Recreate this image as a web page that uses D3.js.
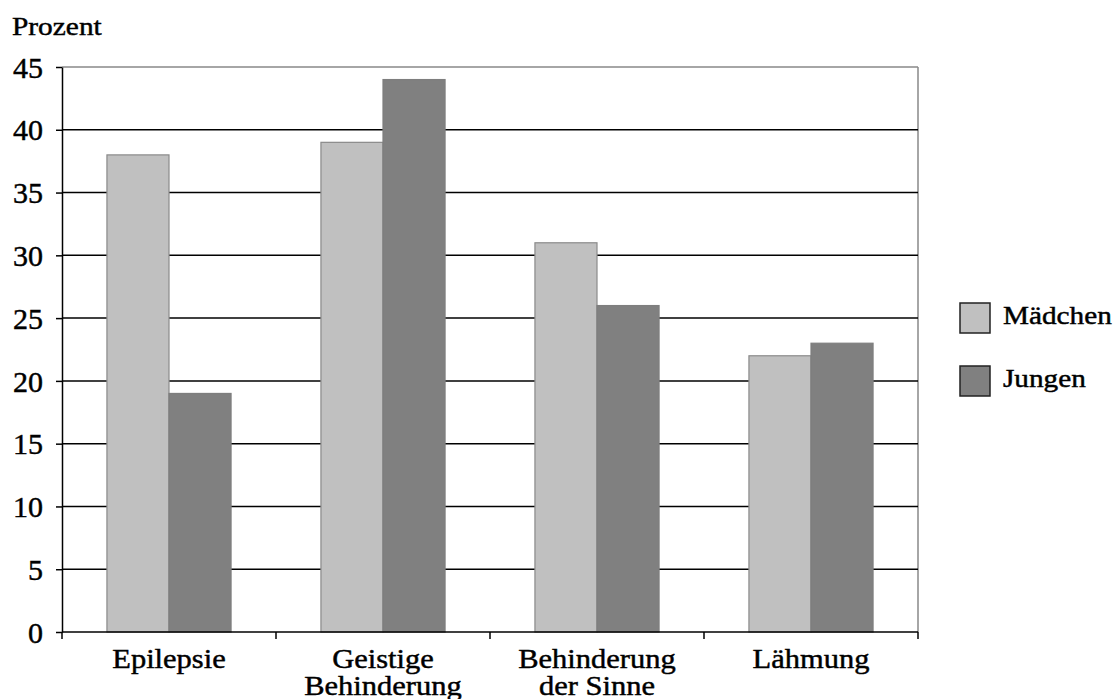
<!DOCTYPE html>
<html>
<head>
<meta charset="utf-8">
<script src="https://cdn.jsdelivr.net/npm/d3@7"></script>
<style>
  body { margin: 0; background: #fff; }
  svg text { fill: #000; stroke: #000; stroke-width: 0.45px; }
</style>
</head>
<body>
<script>
var categories = [['Epilepsie'], ['Geistige', 'Behinderung'], ['Behinderung', 'der Sinne'], ['Lähmung']];
var seriesNames = ['Mädchen', 'Jungen'];
var maedchen = [38, 39, 31, 22];
var jungen = [19, 44, 26, 23];
var yTicks = [0, 5, 10, 15, 20, 25, 30, 35, 40, 45];

var svgWidth = 1118, svgHeight = 699,
    margin = { top: 67, right: 200, bottom: 67, left: 62 },
    chartWidth = svgWidth - margin.left - margin.right,
    chartHeight = svgHeight - margin.top - margin.bottom;

var serif = 'Liberation Serif';
var stretch = 1.13; // the reference lettering is a little wider than Times
var fills = ['#c0c0c0', '#808080'];

var svg = d3.select('body').append('svg')
  .attr('width', svgWidth)
  .attr('height', svgHeight)
  .attr('font-family', serif);

svg.append('text')
  .attr('transform', 'translate(12,35) scale(' + stretch + ',1)')
  .attr('font-family', serif)
  .attr('font-size', 26)
  .text('Prozent');

var g = svg.append('g')
  .attr('transform', 'translate(' + margin.left + ',' + margin.top + ')');

var x0 = d3.scaleBand()
  .domain(d3.range(categories.length))
  .range([0, chartWidth])
  .paddingInner(0.42)
  .paddingOuter(0.21);

var x1 = d3.scaleBand()
  .domain([0, 1])
  .range([0, x0.bandwidth()]);

var y = d3.scaleLinear()
  .domain([0, 45])
  .range([chartHeight, 0]);

// gray frame on top and right
g.append('line')
  .attr('x1', 0).attr('x2', chartWidth).attr('y1', 0).attr('y2', 0)
  .attr('stroke', '#888').attr('stroke-width', 1.5);
g.append('line')
  .attr('x1', chartWidth).attr('x2', chartWidth).attr('y1', 0).attr('y2', chartHeight)
  .attr('stroke', '#888').attr('stroke-width', 1.5);

// gridlines
g.selectAll('.grid')
  .data(yTicks.filter(function (d) { return d > 0 && d < 45; }))
  .enter().append('line')
  .attr('class', 'grid')
  .attr('x1', 0).attr('x2', chartWidth)
  .attr('y1', function (d) { return y(d); })
  .attr('y2', function (d) { return y(d); })
  .attr('stroke', '#000').attr('stroke-width', 1.5);

// bars
var rows = categories.map(function (c, i) { return [maedchen[i], jungen[i]]; });
var groups = g.selectAll('.group')
  .data(rows)
  .enter().append('g')
  .attr('transform', function (d, i) { return 'translate(' + x0(i) + ',0)'; });

groups.selectAll('rect')
  .data(function (d) { return d; })
  .enter().append('rect')
  .attr('x', function (d, j) { return x1(j); })
  .attr('y', function (d) { return y(d); })
  .attr('width', x1.bandwidth())
  .attr('height', function (d) { return chartHeight - y(d); })
  .attr('fill', function (d, j) { return fills[j]; })
  .attr('stroke', function (d, j) { return j === 0 ? '#8a8a8a' : '#7e7e7e'; })
  .attr('stroke-width', 1.2);

// y axis
var yAxis = d3.axisLeft(y).tickValues(yTicks).tickSizeInner(6).tickSizeOuter(0).tickPadding(13);
var ya = g.append('g').call(yAxis)
  .attr('font-family', serif)
  .attr('font-size', 30);
ya.select('.domain').attr('stroke', '#000').attr('stroke-width', 1.5);
ya.selectAll('.tick line').attr('stroke', '#000').attr('stroke-width', 1.5);
ya.selectAll('.tick text').attr('dy', '0.34em');

// x axis
var xStep = chartWidth / categories.length;
var xa = g.append('g').attr('transform', 'translate(0,' + chartHeight + ')');
xa.append('line')
  .attr('x1', 0).attr('x2', chartWidth)
  .attr('stroke', '#000').attr('stroke-width', 1.5);
xa.selectAll('.xtick')
  .data(d3.range(categories.length + 1))
  .enter().append('line')
  .attr('x1', function (d) { return d * xStep; })
  .attr('x2', function (d) { return d * xStep; })
  .attr('y1', 0).attr('y2', 7)
  .attr('stroke', '#000').attr('stroke-width', 1.5);

var labels = xa.selectAll('.xlabel')
  .data(categories)
  .enter().append('text')
  .attr('text-anchor', 'middle')
  .attr('font-family', serif)
  .attr('font-size', 27)
  .attr('transform', function (d, i) {
    return 'translate(' + (x0(i) + x0.bandwidth() / 2) + ',36) scale(' + stretch + ',1)';
  });
labels.selectAll('tspan')
  .data(function (d) { return d; })
  .enter().append('tspan')
  .attr('x', 0)
  .attr('dy', function (d, i) { return i === 0 ? 0 : 27; })
  .text(function (d) { return d; });

// legend
var legend = svg.append('g').attr('transform', 'translate(960,303)');
var li = legend.selectAll('.li')
  .data(seriesNames)
  .enter().append('g')
  .attr('transform', function (d, i) { return 'translate(0,' + (i * 63) + ')'; });
li.append('rect')
  .attr('width', 30).attr('height', 30)
  .attr('fill', function (d, i) { return fills[i]; })
  .attr('stroke', '#222').attr('stroke-width', 1.5);
li.append('text')
  .attr('transform', 'translate(43,21) scale(' + (stretch + 0.04) + ',1)')
  .attr('font-family', serif)
  .attr('font-size', 25)
  .text(function (d) { return d; });
</script>
</body>
</html>
